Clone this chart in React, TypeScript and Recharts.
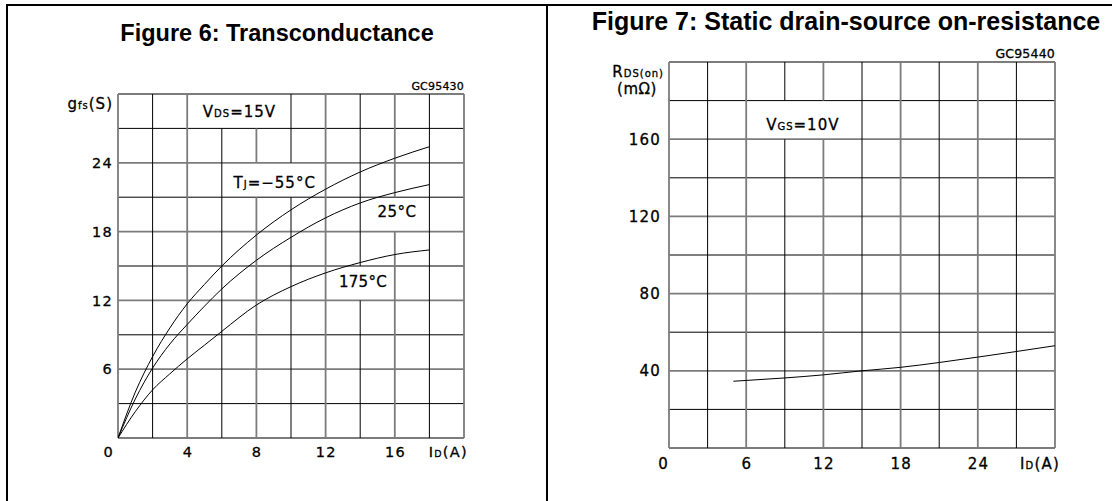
import React from 'react';
import { LineChart, Line, XAxis, YAxis, ReferenceLine, ReferenceDot } from 'recharts';

// ---------- Figure 6 data (Transconductance) ----------
const gfsCurrent = [0, 1, 2, 3, 4, 5, 6, 8, 10, 12, 14, 16, 18];
const gfsMinus55 = [0, 4.0, 7.1, 9.6, 11.7, 13.4, 15.0, 17.7, 19.9, 21.7, 23.2, 24.4, 25.4];
const gfs25 = [0, 3.4, 6.1, 8.2, 9.9, 11.5, 13.0, 15.5, 17.5, 19.2, 20.5, 21.4, 22.1];
const gfs175 = [0, 2.3, 4.2, 5.6, 6.9, 8.1, 9.3, 11.6, 13.2, 14.4, 15.3, 16.0, 16.4];

const leftXTicks = [0, 4, 8, 12, 16, 20];
const leftYTicks = [6, 12, 18, 24, 30];
const leftXGrid = [0, 2, 4, 6, 8, 10, 12, 14, 16, 18, 20];
const leftYGrid = [0, 3, 6, 9, 12, 15, 18, 21, 24, 27, 30];
const leftGaps = [
  { x: 6, y0: 27, y1: 30 },
  { x: 8, y0: 27, y1: 30 },
  { x: 8, y0: 21, y1: 24 },
  { x: 10, y0: 21, y1: 24 },
  { x: 16, y0: 18, y1: 21 },
  { x: 14, y0: 12, y1: 15 },
];

// ---------- Figure 7 data (RDS(on)) ----------
const rdsCurrent = [5, 6, 9, 12, 15, 18, 21, 24, 27, 30];
const rdsValues = [34.6, 35.0, 36.3, 37.9, 40.0, 41.8, 44.3, 47.1, 50.0, 53.0];

const rightXTicks = [0, 6, 12, 18, 24, 30];
const rightYTicks = [40, 80, 120, 160, 200];
const rightXGrid = [0, 3, 6, 9, 12, 15, 18, 21, 24, 27, 30];
const rightYGrid = [0, 20, 40, 60, 80, 100, 120, 140, 160, 180, 200];
const rightGaps = [
  { x: 9, y0: 160, y1: 180 },
  { x: 12, y0: 160, y1: 180 },
];

const leftData = gfsCurrent.map((x, i) => ({ x, m55: gfsMinus55[i], t25: gfs25[i], t175: gfs175[i] }));
const rightData = rdsCurrent.map((x, i) => ({ x, r: rdsValues[i] }));

const FONT = '"DejaVu Sans", Verdana, sans-serif';
const MAJOR = { stroke: '#7c7c7c', strokeWidth: 1.8 };
const MINOR = { stroke: '#000', strokeWidth: 1 };
const INK = { fill: '#000', stroke: '#000', strokeWidth: 0.3 };

type Seg = { x1: number; y1: number; x2: number; y2: number; major: boolean };

function buildGrid(xs: number[], ys: number[], gaps: { x: number; y0: number; y1: number }[], xMajor: number, yMajor: number): Seg[] {
  const segs: Seg[] = [];
  const yMin = ys[0];
  const yMax = ys[ys.length - 1];
  const xMin = xs[0];
  const xMax = xs[xs.length - 1];
  ys.forEach((y) => {
    segs.push({ x1: xMin, y1: y, x2: xMax, y2: y, major: y % yMajor === 0 });
  });
  xs.forEach((x) => {
    const g = gaps.filter((q) => q.x === x).sort((a, b) => a.y0 - b.y0);
    let start = yMin;
    g.forEach((q) => {
      if (q.y0 > start) segs.push({ x1: x, y1: start, x2: x, y2: q.y0, major: x % xMajor === 0 });
      start = q.y1;
    });
    if (start < yMax) segs.push({ x1: x, y1: start, x2: x, y2: yMax, major: x % xMajor === 0 });
  });
  return segs;
}

const leftGrid = buildGrid(leftXGrid, leftYGrid, leftGaps, 4, 6);
const rightGrid = buildGrid(rightXGrid, rightYGrid, rightGaps, 6, 40);

const renderGrid = (segs: Seg[], prefix: string) =>
  segs.map((s, i) => (
    <ReferenceLine
      key={prefix + i}
      segment={[{ x: s.x1, y: s.y1 }, { x: s.x2, y: s.y2 }]}
      {...(s.major ? MAJOR : MINOR)}
      ifOverflow="visible"
    />
  ));

const LeftXTick = (props: any) => {
  const { x, y, payload } = props;
  const v = payload.value;
  const st = { fontFamily: FONT, fontSize: 14.5, letterSpacing: 1.3, ...INK } as any;
  if (v === 20) {
    return (
      <text x={x + 4} y={y + 19} textAnchor="end" style={st}>
        I<tspan style={{ fontSize: 9.5 }}>D</tspan>(A)
      </text>
    );
  }
  return (
    <text x={x + (v === 0 ? -10 : 0) + 0.7} y={y + 19} textAnchor="middle" style={st}>
      {v}
    </text>
  );
};

const LeftYTick = (props: any) => {
  const { x, y, payload } = props;
  const v = payload.value;
  if (v === 30) {
    return (
      <text x={x - 5} y={y + 15} textAnchor="end" style={{ fontFamily: FONT, fontSize: 15, letterSpacing: 1, ...INK }}>
        g<tspan style={{ fontSize: 10 }}>fs</tspan>(S)
      </text>
    );
  }
  return (
    <text x={x - 5} y={y + 5.2} textAnchor="end" style={{ fontFamily: FONT, fontSize: 14.5, letterSpacing: 1.3, ...INK }}>
      {v}
    </text>
  );
};

const RightXTick = (props: any) => {
  const { x, y, payload } = props;
  const v = payload.value;
  const st = { fontFamily: FONT, fontSize: 15, letterSpacing: 1.2, ...INK } as any;
  if (v === 30) {
    return (
      <text x={x + 5} y={y + 20.5} textAnchor="end" style={st}>
        I<tspan style={{ fontSize: 10 }}>D</tspan>(A)
      </text>
    );
  }
  return (
    <text x={x + (v === 0 ? -6 : 0) + 0.6} y={y + 20.5} textAnchor="middle" style={st}>
      {v}
    </text>
  );
};

const RightYTick = (props: any) => {
  const { x, y, payload } = props;
  const v = payload.value;
  const st = { fontFamily: FONT, fontSize: 15, letterSpacing: 1.2, ...INK } as any;
  if (v === 200) {
    return (
      <g>
        <text x={x - 5} y={y + 15} textAnchor="end" style={{ ...st, letterSpacing: 1 }}>
          R<tspan style={{ fontSize: 10 }}>DS(on)</tspan>
        </text>
        <text x={x - 32} y={y + 31.5} textAnchor="middle" style={{ ...st, letterSpacing: 0.5 }}>
          (mΩ)
        </text>
      </g>
    );
  }
  return (
    <text x={x - 8} y={y + 5.5} textAnchor="end" style={st}>
      {v}
    </text>
  );
};

const annoStyle = { fontFamily: FONT, fontSize: 15, letterSpacing: 1, ...INK } as any;

const Anno = (content: React.ReactNode, dy = 5.5, ls = 1) => (p: any) => (
  <text x={p.cx} y={p.cy + dy} textAnchor="middle" style={{ ...annoStyle, letterSpacing: ls }}>
    {content}
  </text>
);

export default function App() {
  return (
    <div style={{ position: 'absolute', left: 0, top: 0, width: 1112, height: 501, background: '#fff' }}>
      <div style={{ position: 'absolute', left: 0, top: 0 }}>
        <LineChart width={556} height={501} data={leftData} margin={{ top: 94, right: 92, bottom: 23, left: 58 }}>
          <XAxis
            type="number"
            dataKey="x"
            domain={[0, 20]}
            ticks={leftXTicks}
            interval={0}
            tick={<LeftXTick />}
            tickSize={0}
            tickMargin={0}
            axisLine={false}
            tickLine={false}
            height={40}
            allowDataOverflow
          />
          <YAxis
            type="number"
            domain={[0, 30]}
            ticks={leftYTicks}
            interval={0}
            tick={<LeftYTick />}
            tickSize={0}
            tickMargin={0}
            axisLine={false}
            tickLine={false}
            width={60}
            allowDataOverflow
          />
          {renderGrid(leftGrid, 'lg')}
          <Line type="monotone" dataKey="m55" stroke="#000" strokeWidth={1} dot={false} isAnimationActive={false} />
          <Line type="monotone" dataKey="t25" stroke="#000" strokeWidth={1} dot={false} isAnimationActive={false} />
          <Line type="monotone" dataKey="t175" stroke="#000" strokeWidth={1} dot={false} isAnimationActive={false} />
          <ReferenceDot x={7.02} y={28.47} r={2} shape={Anno(<>V<tspan style={{ fontSize: 10 }}>DS</tspan>=15V</>)} />
          <ReferenceDot x={9.06} y={22.3} r={2} shape={Anno(<>T<tspan style={{ fontSize: 10 }}>J</tspan>=−55°C</>)} />
          <ReferenceDot x={16.13} y={19.73} r={2} shape={Anno(<>25°C</>, 5.5, 0.5)} />
          <ReferenceDot x={14.16} y={13.63} r={2} shape={Anno(<>175°C</>, 5.5, 0.3)} />
        </LineChart>
      </div>
      <div style={{ position: 'absolute', left: 556, top: 0 }}>
        <LineChart width={556} height={501} data={rightData} margin={{ top: 62, right: 57, bottom: 13, left: 53 }}>
          <XAxis
            type="number"
            dataKey="x"
            domain={[0, 30]}
            ticks={rightXTicks}
            interval={0}
            tick={<RightXTick />}
            tickSize={0}
            tickMargin={0}
            axisLine={false}
            tickLine={false}
            height={40}
            allowDataOverflow
          />
          <YAxis
            type="number"
            domain={[0, 200]}
            ticks={rightYTicks}
            interval={0}
            tick={<RightYTick />}
            tickSize={0}
            tickMargin={0}
            axisLine={false}
            tickLine={false}
            width={60}
            allowDataOverflow
          />
          {renderGrid(rightGrid, 'rg')}
          <Line type="monotone" dataKey="r" stroke="#000" strokeWidth={1} dot={false} isAnimationActive={false} />
          <ReferenceDot x={10.4} y={167.4} r={2} shape={Anno(<>V<tspan style={{ fontSize: 10 }}>GS</tspan>=10V</>)} />
        </LineChart>
      </div>
      <svg width={1112} height={501} style={{ position: 'absolute', left: 0, top: 0, pointerEvents: 'none' }}>
        <rect x={6} y={4} width={1106} height={2} fill="#000" />
        <rect x={6} y={4} width={2} height={497} fill="#000" />
        <rect x={546} y={4} width={2} height={497} fill="#000" />
        <text x={277} y={41} textAnchor="middle" style={{ fontFamily: '"Liberation Sans", Arial, sans-serif', fontWeight: 'bold', fontSize: 23.5, fill: '#000' }}>
          Figure 6: Transconductance
        </text>
        <text x={846} y={30} textAnchor="middle" style={{ fontFamily: '"Liberation Sans", Arial, sans-serif', fontWeight: 'bold', fontSize: 25, fill: '#000' }}>
          Figure 7: Static drain-source on-resistance
        </text>
        <text x={464} y={90} textAnchor="end" style={{ fontFamily: FONT, fontSize: 11, letterSpacing: 0.2, ...INK }}>
          GC95430
        </text>
        <text x={1055} y={58.3} textAnchor="end" style={{ fontFamily: FONT, fontSize: 12.5, letterSpacing: 0.2, ...INK }}>
          GC95440
        </text>
      </svg>
    </div>
  );
}
